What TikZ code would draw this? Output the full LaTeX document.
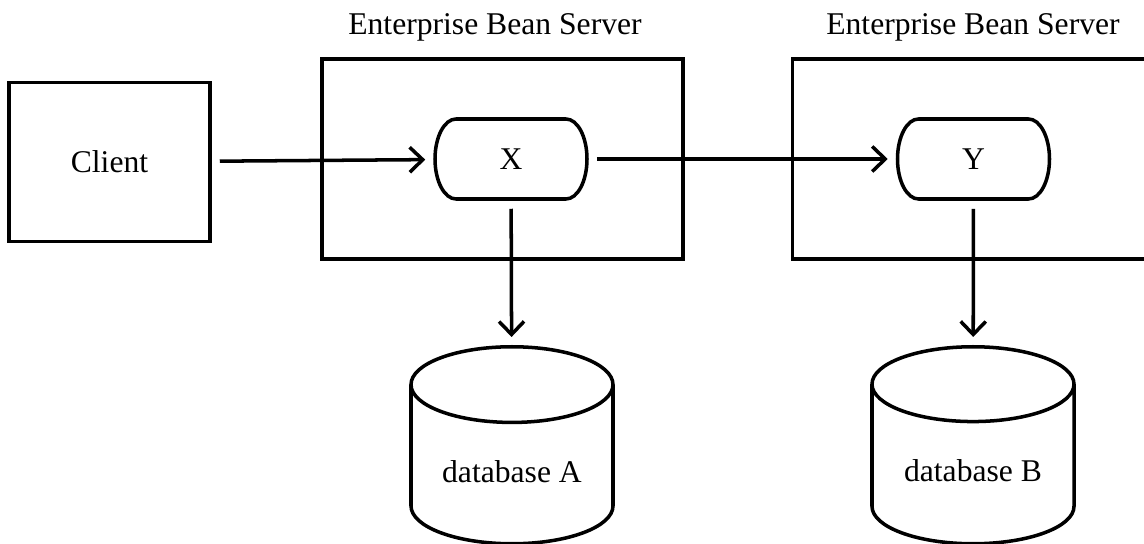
\documentclass[tikz,border=0pt]{standalone}
\usepackage{fontspec}
\setmainfont{Liberation Serif}
\usetikzlibrary{arrows.meta, positioning, shapes.geometric}

\begin{document}
\begin{tikzpicture}[font=\fontsize{18pt}{22pt}\selectfont, line width=2pt,
      block/.style={rectangle, draw, minimum width=4.02cm, minimum height=3.18cm},
      server/.style={rectangle, draw, minimum width=7.22cm, minimum height=4cm},
      bean/.style={rectangle, minimum width=3.04cm, minimum height=1.6cm},
      store/.style={cylinder, shape border rotate=90, aspect=0.5, draw, minimum width=4.04cm, minimum height=3.94cm, anchor=top},
      title/.style={anchor=base},
      link/.style={-{Straight Barb[length=0.26cm, width=0.5cm]}, shorten <=0.16cm, shorten >=0.16cm}]

      \useasboundingbox (0,0) rectangle (22.88,10.88);

      \node[block] (client) at (2.19,7.64) {Client};
      \node[server] (srvA) at (10.05,7.70) {};
      \node[server] (srvB) at (19.46,7.70) {};
      \node[title] (titleA) at (9.90,10.18) {Enterprise Bean Server};
      \node[title] (titleB) at (19.46,10.18) {Enterprise Bean Server};

      \node[bean] (x) at (10.22,7.70) {X};
      \node[bean] (y) at (19.47,7.70) {Y};

      % bean outlines with elliptic ends
      \foreach \b in {x,y} {
        \draw ([shift={(-1.1,0.8)}]\b.center) -- ++(2.2,0)
          arc[start angle=90, end angle=-90, x radius=0.42cm, y radius=0.8cm]
          -- ++(-2.2,0)
          arc[start angle=270, end angle=90, x radius=0.42cm, y radius=0.8cm] -- cycle;
      }

      \node[store] (dbA) at (10.24,3.98) {database A};
      \node[store] (dbB) at (19.46,3.98) {database B};

      % Arrows
      \draw[link] (client) -- (x);
      \draw[link] (x) -- (y);
      \draw[link] (x) -- (dbA);
      \draw[link] (y) -- (dbB);
    \end{tikzpicture}
\end{document}
